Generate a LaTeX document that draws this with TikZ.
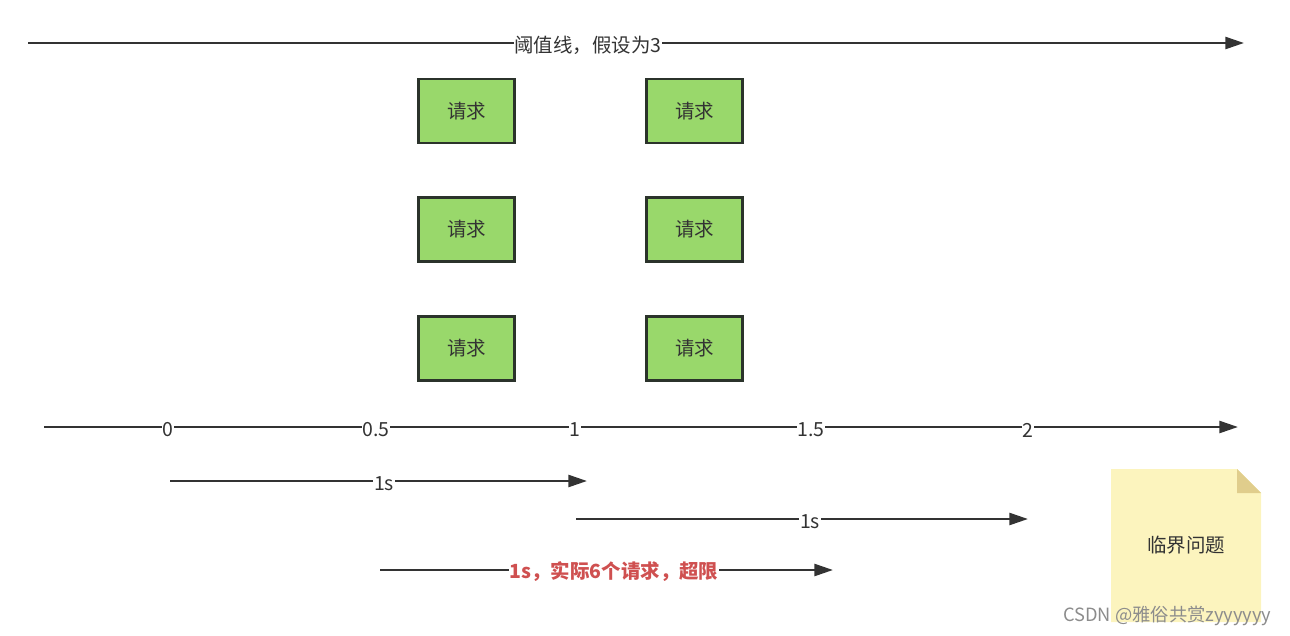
\documentclass[tikz,border=0pt]{standalone}
\usepackage{fontspec}
\setmainfont{Noto Sans CJK SC}
\usetikzlibrary{arrows.meta}
\definecolor{boxfill}{HTML}{99D86B}
\definecolor{boxline}{HTML}{2B332B}
\definecolor{linec}{HTML}{333333}
\definecolor{redtxt}{HTML}{CF5050}
\definecolor{notefill}{HTML}{FCF4BE}
\definecolor{notefold}{HTML}{E0CD8C}
\begin{document}
\begin{tikzpicture}[x=0.75pt,y=-0.75pt,
  txt/.style={font=\fontsize{14.6}{17}\selectfont, text=linec},
  conn/.style={draw=linec, line width=1.9pt, -{Triangle[length=14pt,width=9pt]}},
  lbl/.style={txt, fill=white, inner xsep=0.5pt, inner ysep=1pt},
  req/.style={txt, draw=boxline, line width=1.8pt, fill=boxfill, minimum width=72pt, minimum height=48pt, inner sep=0pt},
  anchorpt/.style={inner sep=0pt, minimum size=0pt}
]
\useasboundingbox (0,0) rectangle (1290,636);
% threshold line
\coordinate (t0) at (28,43);
\coordinate (t1) at (1244,43);
\draw[conn] (t0) -- (t1);
\node[lbl] (thr) at (588,45) {阈值线，假设为3};
% request boxes
\node[req] (r11) at (466.5,111) {请求};
\node[req] (r12) at (466.5,229.5) {请求};
\node[req] (r13) at (466.5,348.5) {请求};
\node[req] (r21) at (694.5,111) {请求};
\node[req] (r22) at (694.5,229.5) {请求};
\node[req] (r23) at (694.5,348.5) {请求};
% timeline
\coordinate (a0) at (44,427);
\coordinate (a1) at (1238,427);
\draw[conn] (a0) -- (a1);
\node[lbl] (l0) at (168,430) {0};
\node[lbl] (l05) at (376,430) {0.5};
\node[lbl] (l1) at (575,430) {1};
\node[lbl] (l15) at (811,430) {1.5};
\node[lbl] (l2) at (1028,430) {2};
% window 1
\coordinate (w1a) at (170,481);
\coordinate (w1b) at (587,481);
\draw[conn] (w1a) -- (w1b);
\node[lbl] (s1) at (384,484) {1s};
% window 2
\coordinate (w2a) at (576,519);
\coordinate (w2b) at (1028,519);
\draw[conn] (w2a) -- (w2b);
\node[lbl] (s2) at (810,522) {1s};
% window 3
\coordinate (w3a) at (380,570);
\coordinate (w3b) at (833,570);
\draw[conn] (w3a) -- (w3b);
\node[lbl, text=redtxt, font=\fontsize{14.6}{17}\selectfont\bfseries] (s3) at (614,572) {1s，实际6个请求，超限};
% note
\fill[notefill] (1111,469) -- (1237,469) -- (1261,493) -- (1261,622) -- (1111,622) -- cycle;
\fill[notefold] (1237,469) -- (1261,493) -- (1237,493) -- cycle;
\node[txt] (note) at (1186,545) {临界问题};
% watermark
\node[font=\fontsize{13.7}{16}\selectfont, text=black!45, anchor=east] (wm) at (1276,616) {CSDN @雅俗共赏zyyyyyy};
\end{tikzpicture}
\end{document}
